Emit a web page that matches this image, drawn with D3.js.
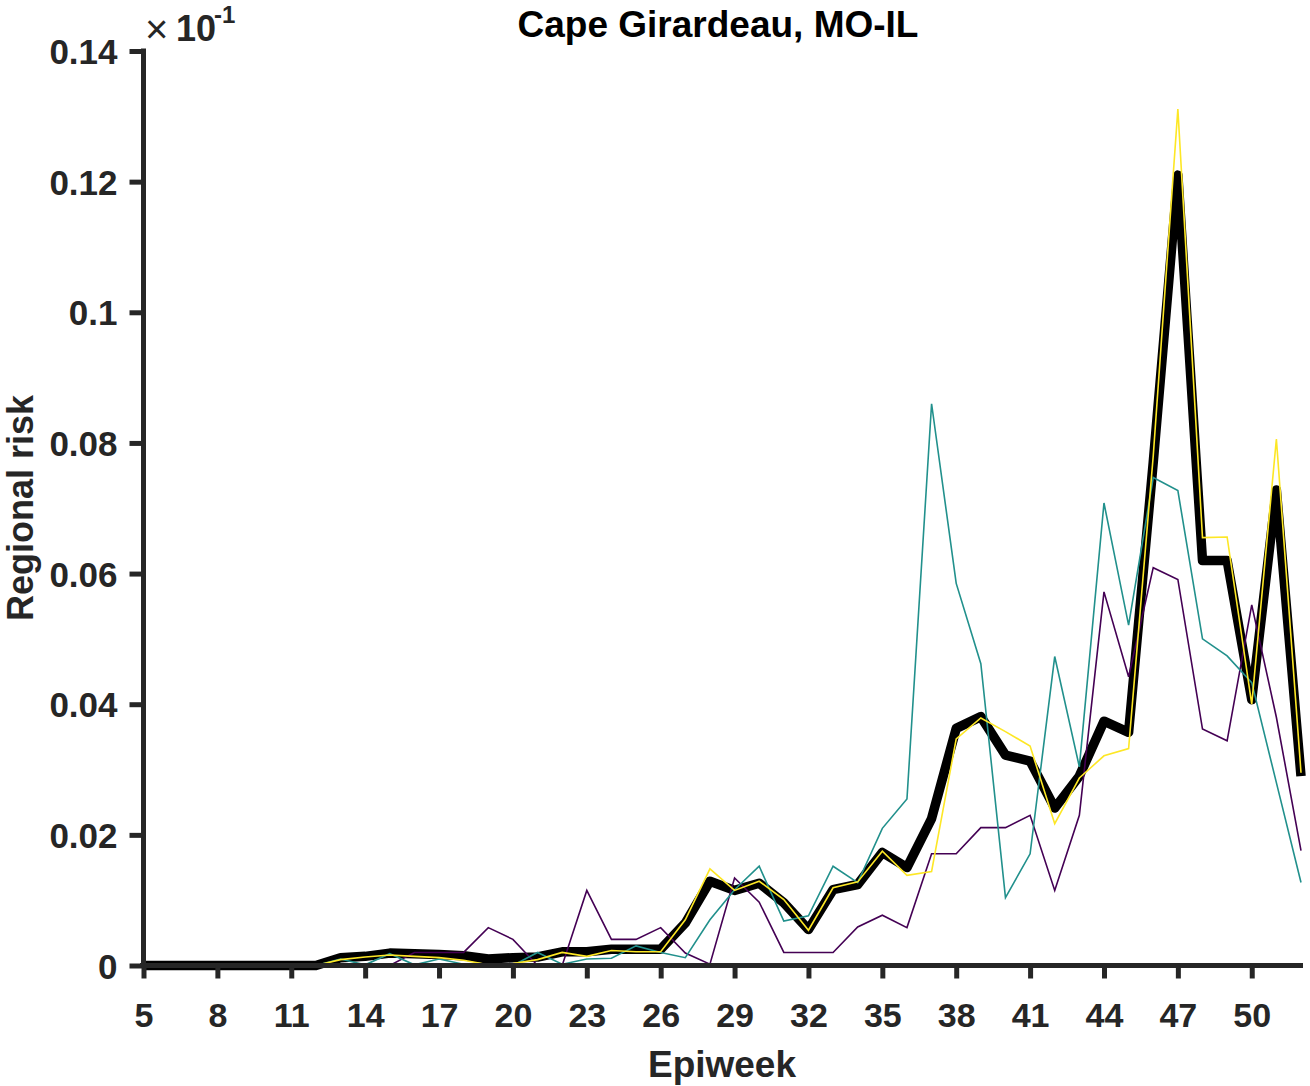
<!DOCTYPE html>
<html>
<head>
<meta charset="utf-8">
<script src="https://cdn.jsdelivr.net/npm/d3@7"></script>
<style>
  html, body { margin: 0; padding: 0; background: #fff; }
  svg { display: block; }
  text { font-family: "Liberation Sans", Arial, Helvetica, sans-serif; }
</style>
</head>
<body>
<svg id="chart" width="1310" height="1086"></svg>
<script>
// ---- data ----
const weeks = d3.range(5, 53);
const meanRisk = [0,0,0,0,0,0,0,0,
  0.0012,0.0014,0.0019,0.0018,0.0017,0.0015,0.0010,0.0012,0.0013,0.0021,0.0021,0.0025,0.0025,0.0025,
  0.0065,0.0129,0.0115,0.0126,0.0096,0.0055,0.0116,0.0124,0.0173,0.0150,0.0225,0.0363,0.0381,0.0322,
  0.0313,0.0241,0.0290,0.0374,0.0357,0.0770,0.1210,0.0620,0.0620,0.0407,0.0728,0.0290];
const yellowRisk = [0,0,0,0,0,0,0,0,
  0.0009,0.0013,0.0016,0.0014,0.0012,0.0008,0.0001,0.0003,0.0009,0.0020,0.0014,0.0023,0.0021,0.0021,
  0.0070,0.0148,0.0115,0.0129,0.0101,0.0054,0.0119,0.0128,0.0175,0.0138,0.0144,0.0347,0.0379,0.0358,
  0.0336,0.0217,0.0287,0.0321,0.0332,0.0780,0.1311,0.0655,0.0656,0.0400,0.0806,0.0295];
const tealRisk = [0,0,0,0,0,0,0,0,
  0.0010,0.0001,0.0018,0.0001,0.0010,0.0002,0.0000,0.0000,0.0020,0.0002,0.0010,0.0011,0.0030,0.0020,
  0.0012,0.0070,0.0116,0.0152,0.0068,0.0076,0.0152,0.0127,0.0210,0.0255,0.0860,0.0585,0.0462,0.0104,
  0.0171,0.0473,0.0304,0.0708,0.0521,0.0747,0.0727,0.0500,0.0474,0.0433,0.0280,0.0127];
const purpleRisk = [0,0,0,0,0,0,0,0,0,0,0,
  0.0020,0.0020,0.0020,0.0058,0.0040,0.0000,0.0000,0.0115,0.0040,0.0040,0.0058,
  0.0019,0.0002,0.0134,0.0097,0.0020,0.0020,0.0020,0.0059,0.0077,0.0058,0.0171,0.0171,0.0211,0.0211,
  0.0230,0.0115,0.0230,0.0572,0.0442,0.0609,0.0591,0.0362,0.0344,0.0552,0.0380,0.0176];
const xTicks = d3.range(5, 51, 3);
const yTicks = [0, 0.02, 0.04, 0.06, 0.08, 0.1, 0.12, 0.14];
const yTickLabels = ["0", "0.02", "0.04", "0.06", "0.08", "0.1", "0.12", "0.14"];
const titleText = "Cape Girardeau, MO-IL";
const xLabelText = "Epiweek";
const yLabelText = "Regional risk";

// ---- layout ----
const svg = d3.select("#chart");
const x = d3.scaleLinear().domain([5, 52]).range([143.5, 1301]);
const y = d3.scaleLinear().domain([0, 0.14]).range([965.5, 51]);
const axisColor = "#262626";

const line = d3.line().x((d, i) => x(weeks[i])).y(d => y(d));

// thick mean line first
svg.append("path").datum(meanRisk)
  .attr("d", line).attr("fill", "none")
  .attr("stroke", "#000").attr("stroke-width", 9.5)
  .attr("stroke-linejoin", "round").attr("stroke-linecap", "butt");

const thin = [
  {data: purpleRisk, color: "#440154"},
  {data: tealRisk, color: "#21908C"},
  {data: yellowRisk, color: "#FDE725"}
];
thin.forEach(s => {
  svg.append("path").datum(s.data)
    .attr("d", line).attr("fill", "none")
    .attr("stroke", s.color).attr("stroke-width", 1.6)
    .attr("stroke-linejoin", "miter");
});

// x axis
const gx = svg.append("g").attr("transform", `translate(0,${y(0)})`)
  .call(d3.axisBottom(x).tickValues(xTicks).tickSize(13).tickSizeOuter(0).tickFormat(d3.format("d")));
gx.select(".domain").attr("stroke", axisColor).attr("stroke-width", 5).attr("d", `M${x(5)-3.5},0H${x(52)+2}`);
gx.selectAll(".tick line").attr("stroke", axisColor).attr("stroke-width", 5);
gx.selectAll(".tick text").attr("fill", axisColor).attr("font-size", 34).attr("font-weight", "bold")
  .attr("font-family", "'Liberation Sans', Arial, sans-serif")
  .attr("y", 61.5).attr("dy", 0);

// y axis
const gy = svg.append("g").attr("transform", `translate(${x(5)},0)`)
  .call(d3.axisLeft(y).tickValues(yTicks).tickSize(14).tickSizeOuter(0)
    .tickFormat((d, i) => yTickLabels[i]));
gy.select(".domain").attr("stroke", axisColor).attr("stroke-width", 5).attr("d", `M0,${y(0.14)-2.5}V${y(0)+2.5}`);
gy.selectAll(".tick line").attr("stroke", axisColor).attr("stroke-width", 5);
gy.selectAll(".tick text").attr("fill", axisColor).attr("font-size", 35).attr("font-weight", "bold")
  .attr("font-family", "'Liberation Sans', Arial, sans-serif")
  .attr("x", -26).attr("dy", "0.36em");

// exponent
svg.append("text").attr("x", 145).attr("y", 43).attr("fill", axisColor)
  .attr("font-size", 40).text("\u00D7");
svg.append("text").attr("x", 176).attr("y", 41).attr("fill", axisColor)
  .attr("font-size", 36).attr("font-weight", "bold").text("10");
svg.append("text").attr("x", 214).attr("y", 23).attr("fill", axisColor)
  .attr("font-size", 24).attr("font-weight", "bold").text("-1");

// title
svg.append("text").attr("x", 718).attr("y", 37).attr("text-anchor", "middle")
  .attr("font-size", 37).attr("font-weight", "bold").attr("fill", "#000").text(titleText);

// axis labels
svg.append("text").attr("x", 722).attr("y", 1077).attr("text-anchor", "middle")
  .attr("font-size", 37).attr("font-weight", "bold").attr("fill", axisColor).text(xLabelText);
svg.append("text").attr("transform", "translate(33,508) rotate(-90)").attr("text-anchor", "middle")
  .attr("font-size", 36).attr("font-weight", "bold").attr("fill", axisColor).text(yLabelText);
</script>
</body>
</html>
